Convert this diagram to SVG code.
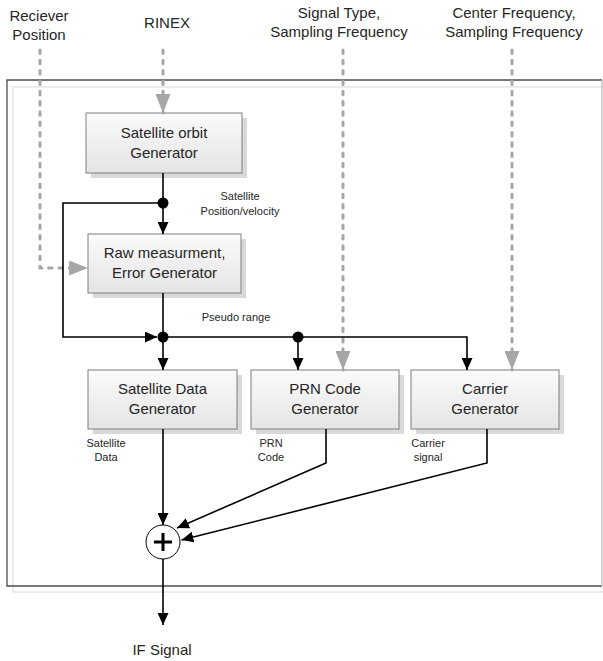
<svg xmlns="http://www.w3.org/2000/svg" width="603" height="661" viewBox="0 0 603 661">
<defs>
<linearGradient id="boxg" x1="0" y1="0" x2="0" y2="1">
<stop offset="0" stop-color="#fbfbfb"/>
<stop offset="1" stop-color="#e4e4e4"/>
</linearGradient>
<marker id="ab" markerUnits="userSpaceOnUse" markerWidth="12" markerHeight="11" refX="12" refY="5.5" orient="auto">
<path d="M0,0 L12,5.5 L0,11 z" fill="#000"/>
</marker>
<marker id="ag" markerUnits="userSpaceOnUse" markerWidth="19" markerHeight="15" refX="19" refY="7.5" orient="auto">
<path d="M0,0 L19,7.5 L0,15 z" fill="#a6a6a6"/>
</marker>
</defs>
<style>
.t{font-family:"Liberation Sans",Arial,sans-serif;font-size:15px;fill:#262626;text-anchor:middle}
.s{font-family:"Liberation Sans",Arial,sans-serif;font-size:11px;fill:#262626;text-anchor:middle}
.box{fill:url(#boxg);stroke:#7f7f7f;stroke-width:1}
.sh{fill:#d9d9d9}
.c{fill:none;stroke:#000;stroke-width:1.6;marker-end:url(#ab)}
.d{fill:none;stroke:#a6a6a6;stroke-width:3;stroke-dasharray:3.5 6.8;stroke-linecap:round;marker-end:url(#ag)}
.dot{fill:#000}
</style>
<rect width="603" height="661" fill="#fff"/>
<g id="frame">
<rect x="13" y="87" width="600" height="505" fill="none" stroke="#e6e6e6" stroke-width="1.5"/>
<path d="M602,80 H7 V586 H602" fill="none" stroke="#4d4d4d" stroke-width="1.3"/>
<path d="M602,80 V586" fill="none" stroke="#bfbfbf" stroke-width="1.3"/>
</g>
<g id="labels">
<text class="t" x="39" y="21">Reciever</text>
<text class="t" x="39" y="40">Position</text>
<text class="t" x="167" y="28">RINEX</text>
<text class="t" x="339" y="18">Signal Type,</text>
<text class="t" x="339" y="37">Sampling Frequency</text>
<text class="t" x="514" y="18">Center Frequency,</text>
<text class="t" x="514" y="37">Sampling Frequency</text>
<text class="t" x="162" y="655">IF Signal</text>
</g>
<g id="orbit">
<rect class="sh" x="91" y="118" width="156" height="60"/>
<rect class="box" x="86" y="113" width="156" height="60"/>
<text class="t" x="164" y="137.5">Satellite orbit</text>
<text class="t" x="164" y="157.5">Generator</text>
</g>
<g id="raw">
<rect class="sh" x="93" y="239" width="153" height="59"/>
<rect class="box" x="88" y="234" width="153" height="59"/>
<text class="t" x="164.5" y="258">Raw measurment,</text>
<text class="t" x="164.5" y="278">Error Generator</text>
</g>
<g id="satdata">
<rect class="sh" x="93" y="375" width="149" height="59"/>
<rect class="box" x="88" y="370" width="149" height="59"/>
<text class="t" x="162.5" y="394">Satellite Data</text>
<text class="t" x="162.5" y="414">Generator</text>
</g>
<g id="prn">
<rect class="sh" x="256" y="375" width="148" height="59"/>
<rect class="box" x="251" y="370" width="148" height="59"/>
<text class="t" x="325" y="394">PRN Code</text>
<text class="t" x="325" y="414">Generator</text>
</g>
<g id="carrier">
<rect class="sh" x="416" y="375" width="148" height="59"/>
<rect class="box" x="411" y="370" width="148" height="59"/>
<text class="t" x="485" y="394">Carrier</text>
<text class="t" x="485" y="414">Generator</text>
</g>
<g id="sum">
<circle cx="163" cy="542" r="17" fill="#fff" stroke="#000" stroke-width="1"/>
<path d="M163,533 V551 M154,542 H172" stroke="#000" stroke-width="3"/>
</g>
<g id="connectors">
<path class="d" d="M163,50 V113"/>
<path class="d" d="M40,50 V268 H88"/>
<path class="d" d="M343,50 V370"/>
<path class="d" d="M512,50 V370"/>
<path class="c" d="M163,173 V234"/>
<path class="c" d="M163,203 H63 V337 H157"/>
<path class="c" d="M163,293 V370"/>
<path class="c" d="M163,337 H467 V370"/>
<path class="c" d="M298,337 V370"/>
<path class="c" d="M163,429 V525"/>
<path class="c" d="M326,429 V463 L177,528"/>
<path class="c" d="M487,429 V463 L181.5,540"/>
<path class="c" d="M163,559 V625"/>
<circle class="dot" cx="163" cy="203" r="5.5"/>
<circle class="dot" cx="163" cy="337" r="5.5"/>
<circle class="dot" cx="298" cy="337" r="5.5"/>
<text class="s" x="240" y="200">Satellite</text>
<text class="s" x="240" y="215">Position/velocity</text>
<text class="s" x="236" y="321">Pseudo range</text>
<text class="s" x="106" y="447">Satellite</text>
<text class="s" x="106" y="461">Data</text>
<text class="s" x="271" y="447">PRN</text>
<text class="s" x="271" y="461">Code</text>
<text class="s" x="428" y="447">Carrier</text>
<text class="s" x="428" y="461">signal</text>
</g>
</svg>
